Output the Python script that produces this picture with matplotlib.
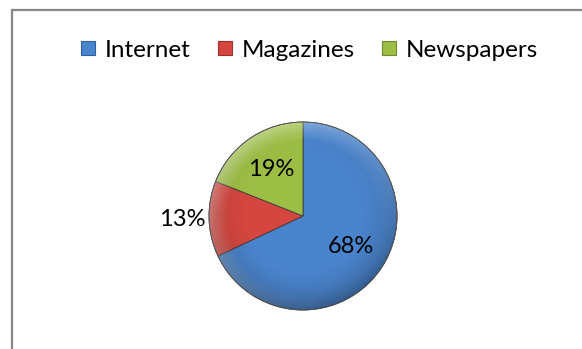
import numpy as np
import matplotlib.pyplot as plt
from matplotlib.patches import Rectangle, Circle
from matplotlib.lines import Line2D

labels = ["Internet", "Magazines", "Newspapers"]
shares = [68, 13, 19]
colors = ["#4A84CC", "#D4463F", "#9DBE45"]
edge_colors = ["#2F5F9E", "#9E2F2A", "#6F8A2A"]

plt.rcParams["font.family"] = ["Lato", "DejaVu Sans"]

W, H = 582, 349
fig = plt.figure(figsize=(W / 100, H / 100), dpi=100)

# grey chart frame, runs off the right and bottom edge
fig.patches.append(Rectangle((12 / W, -0.05), 1.0, (H - 10) / H + 0.05,
                             transform=fig.transFigure, fill=False,
                             edgecolor="#878787", linewidth=1.6))

cx, cy, r = 303, 216, 94
ax = fig.add_axes([(cx - r) / W, (H - cy - r) / H, 2 * r / W, 2 * r / H])

wedges, texts, autotexts = ax.pie(
    shares, colors=colors, startangle=90, counterclock=False,
    autopct="%d%%", pctdistance=0.6, radius=1,
    wedgeprops=dict(linewidth=0.6, edgecolor="#3a3a3a"),
    textprops=dict(fontsize=17, color="black"))
ax.axis("off")
for w in wedges:
    w.set_clip_on(False)
for t in autotexts:
    t.set_clip_on(False)

# the small slice gets its label outside the pie
mid = np.deg2rad((wedges[1].theta1 + wedges[1].theta2) / 2)
autotexts[1].set_position((1.29 * np.cos(mid), 1.29 * np.sin(mid)))

# bevel-like shading: lighter rim up-left, darker toward the bottom
n = 400
xs = np.linspace(-1, 1, n)
X, Y = np.meshgrid(xs, xs)
R = np.sqrt(X ** 2 + Y ** 2)
dark = np.clip((R - 0.55) / 0.45, 0, 1) ** 2 * np.clip(0.5 - 0.5 * Y, 0, 1)
light = np.clip((R - 0.8) / 0.2, 0, 1) * np.clip(0.5 + 0.5 * (Y - X) / 1.4, 0, 1)
shade = np.zeros((n, n, 4))
shade[..., 3] = 0.35 * dark
hl = np.zeros((n, n, 4))
hl[..., :3] = 1.0
hl[..., 3] = 0.35 * light
for w in wedges:
    for img in (shade, hl):
        im = ax.imshow(img, extent=(-1, 1, -1, 1), origin="lower", zorder=2)
        im.set_clip_path(w)
ax.set_xlim(-1, 1)
ax.set_ylim(-1, 1)
for t in autotexts:
    t.set_zorder(5)
ax.add_patch(Circle((0, 0), 1, fill=False, edgecolor="#555555",
                    linewidth=0.6, zorder=3, clip_on=False))

handles = [Line2D([], [], marker="s", linestyle="none", markersize=10,
                  markerfacecolor=c, markeredgecolor=e, markeredgewidth=0.8)
           for c, e in zip(colors, edge_colors)]
fig.legend(handles, labels, loc="center", bbox_to_anchor=(308 / W, 1 - 50 / H),
           ncol=3, frameon=False, fontsize=17.5, handletextpad=0.3,
           columnspacing=1.0, handlelength=0.8)

fig.savefig("out.png", dpi=100, facecolor="white")
